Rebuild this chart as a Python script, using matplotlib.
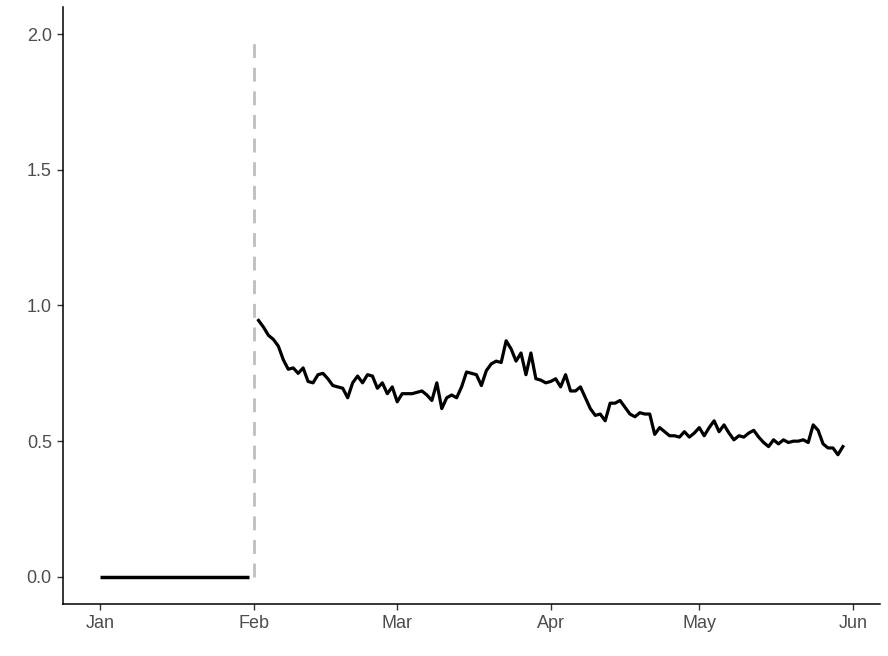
import numpy as np
import pandas as pd
import matplotlib
matplotlib.use("Agg")
import matplotlib.pyplot as plt
import matplotlib.dates as mdates

# daily values from Feb 2 onwards
values = [
    0.945, 0.92, 0.89, 0.875, 0.85, 0.80, 0.765, 0.77, 0.75, 0.77,
    0.72, 0.715, 0.745, 0.75, 0.73, 0.705, 0.70, 0.695, 0.66, 0.715,
    0.74, 0.715, 0.745, 0.74, 0.695, 0.715, 0.675, 0.70, 0.645, 0.675,
    0.675, 0.675, 0.68, 0.685, 0.67, 0.65, 0.715, 0.62, 0.66, 0.67,
    0.66, 0.70, 0.755, 0.75, 0.745, 0.705, 0.76, 0.785, 0.795, 0.79,
    0.87, 0.84, 0.795, 0.825, 0.745, 0.825, 0.73, 0.725, 0.715, 0.72,
    0.73, 0.70, 0.745, 0.685, 0.685, 0.70, 0.66, 0.62, 0.595, 0.60,
    0.575, 0.64, 0.64, 0.65, 0.625, 0.60, 0.59, 0.605, 0.60, 0.60,
    0.525, 0.55, 0.535, 0.52, 0.52, 0.515, 0.535, 0.515, 0.53, 0.55,
    0.52, 0.55, 0.575, 0.535, 0.56, 0.53, 0.505, 0.52, 0.515, 0.53,
    0.54, 0.515, 0.495, 0.48, 0.505, 0.49, 0.505, 0.495, 0.50, 0.50,
    0.505, 0.495, 0.56, 0.54, 0.49, 0.475, 0.475, 0.45, 0.48,
]
dates = pd.date_range("2020-02-02", periods=len(values), freq="D")

zero_dates = pd.date_range("2020-01-01", "2020-01-31", freq="D")
zero_values = [0.0] * len(zero_dates)

cutoff = pd.Timestamp("2020-02-01")
y_ticks = [0.0, 0.5, 1.0, 1.5, 2.0]
x_ticks = pd.to_datetime(["2020-01-01", "2020-02-01", "2020-03-01",
                          "2020-04-01", "2020-05-01", "2020-06-01"])

plt.rcParams["font.family"] = ["Liberation Sans", "DejaVu Sans"]

fig = plt.figure(figsize=(8.88, 6.56), dpi=100)
ax = fig.add_axes([0.0709, 0.0793, 0.9201, 0.91])

ax.plot(zero_dates, zero_values, color="black", linewidth=2.5, solid_capstyle="butt")
ax.plot(dates, values, color="black", linewidth=2.3)
ax.plot([cutoff, cutoff], [0, 2.0], color="#BEBEBE", linewidth=2.0,
        linestyle=(0, (5, 3.5)))

start = pd.Timestamp("2020-01-01")
end = dates[-1]
pad = (end - start) * 0.05
ax.set_xlim(start - pad, end + pad)
ax.set_ylim(-0.1, 2.1)

ax.set_xticks(x_ticks)
ax.xaxis.set_major_formatter(mdates.DateFormatter("%b"))
ax.set_yticks(y_ticks)
ax.set_yticklabels([f"{v:.1f}" for v in y_ticks])

for side in ["top", "right"]:
    ax.spines[side].set_visible(False)
for side in ["left", "bottom"]:
    ax.spines[side].set_linewidth(1.1)
ax.tick_params(axis="both", length=4, width=1.0, color="#333333",
               labelsize=13, labelcolor="#4D4D4D", pad=4)

fig.savefig("out.png", dpi=100)
